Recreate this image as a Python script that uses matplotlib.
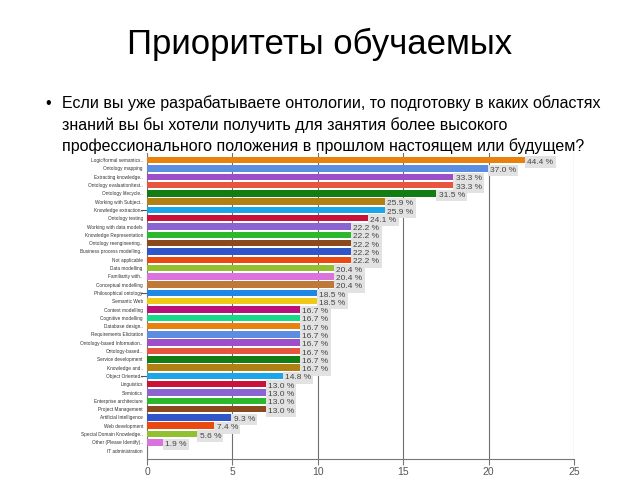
import matplotlib

matplotlib.use("Agg")
import matplotlib.pyplot as plt

plt.rcParams["font.family"] = ["Liberation Sans", "DejaVu Sans"]

TITLE = "Приоритеты обучаемых"
QUESTION = [
    "Если вы уже разрабатываете онтологии, то подготовку в каких областях",
    "знаний вы бы хотели получить для занятия более высокого",
    "профессионального положения в прошлом настоящем или будущем?",
]

categories = [
    "Logic/formal semantics..", "Ontology mapping", "Extracting knowledge..",
    "Ontology evaluation/test..", "Ontology lifecycle..", "Working with Subject..",
    "Knowledge extraction..", "Ontology testing", "Working with data models",
    "Knowledge Representation", "Ontology reengineering..", "Business process modelling..",
    "Not applicable", "Data modelling", "Familiarity with..",
    "Conceptual modelling", "Philosophical ontology", "Semantic Web",
    "Context modelling", "Cognitive modelling", "Database design..",
    "Requirements Elicitation", "Ontology-based Information..", "Ontology-based..",
    "Service development", "Knowledge and..", "Object Oriented..",
    "Linguistics", "Semiotics", "Enterprise architecture",
    "Project Management", "Artificial Intelligence", "Web development",
    "Special Domain Knowledge..", "Other (Please Identify)..", "IT administration",
]
counts = [22.2, 20, 18, 18, 17, 14, 14, 13, 12, 12, 12, 12, 12, 11, 11, 11, 10, 10,
          9, 9, 9, 9, 9, 9, 9, 9, 8, 7, 7, 7, 7, 5, 4, 3, 1, 0]
percents = [44.4, 37.0, 33.3, 33.3, 31.5, 25.9, 25.9, 24.1, 22.2, 22.2, 22.2, 22.2,
            22.2, 20.4, 20.4, 20.4, 18.5, 18.5, 16.7, 16.7, 16.7, 16.7, 16.7, 16.7,
            16.7, 16.7, 14.8, 13.0, 13.0, 13.0, 13.0, 9.3, 7.4, 5.6, 1.9, None]

palette = [
    "#e8820c", "#5b8ee0", "#9c4fc9", "#e8553e", "#137c12", "#b08112", "#1aa6e8",
    "#c8123a", "#8a64d0", "#2cb82c", "#8b4a1e", "#2f55c8", "#ea4a10", "#92c030",
    "#dc72dc", "#c07838", "#1f86e8", "#f0c818", "#b8127a", "#18d98a",
]

fig = plt.figure(figsize=(6.4, 4.8), dpi=100)
fig.text(0.5, 0.908, TITLE, ha="center", va="center", fontsize=25)
fig.text(0.075, 0.785, "•", ha="center", va="center", fontsize=11.5)
for i, line in enumerate(QUESTION):
    fig.text(0.097, 0.785 - i * 0.045, line, ha="left", va="center", fontsize=11.5)

ax = fig.add_axes([0.2297, 0.044, 0.667, 0.637])
ypos = list(range(len(categories)))
colors = [palette[i % len(palette)] for i in ypos]
ax.barh(ypos, counts, height=0.78, color=colors, zorder=3)

for y, c, p in zip(ypos, counts, percents):
    if p is None:
        continue
    ax.text(c + 0.08, y + 0.25, f"{p:.1f} %", ha="left", va="center", fontsize=6,
            color="#444444", zorder=4,
            bbox=dict(boxstyle="square,pad=0.28", fc="#e2e2e2", ec="none"))

ax.set_xlim(0, 25)
ax.set_ylim(36, -0.85)
ax.set_xticks([0, 5, 10, 15, 20, 25])
ax.set_yticks(ypos)
ax.set_yticklabels(categories, fontsize=3.4, color="#333333")
ax.tick_params(axis="y", length=0, pad=3)
ax.tick_params(axis="x", length=4, color="#777777", labelsize=7.5, labelcolor="#555555", pad=2)
ax.grid(axis="x", color="#6f6f6f", linewidth=0.8, zorder=1)
for side in ["top", "right"]:
    ax.spines[side].set_visible(False)
ax.spines["left"].set_color("#777777")
ax.spines["bottom"].set_color("#777777")
for y in [6, 16, 26]:
    ax.plot([-0.35, 0], [y, y], color="#555555", linewidth=0.8, clip_on=False)

fig.savefig("out.png", dpi=100)
plt.close(fig)
